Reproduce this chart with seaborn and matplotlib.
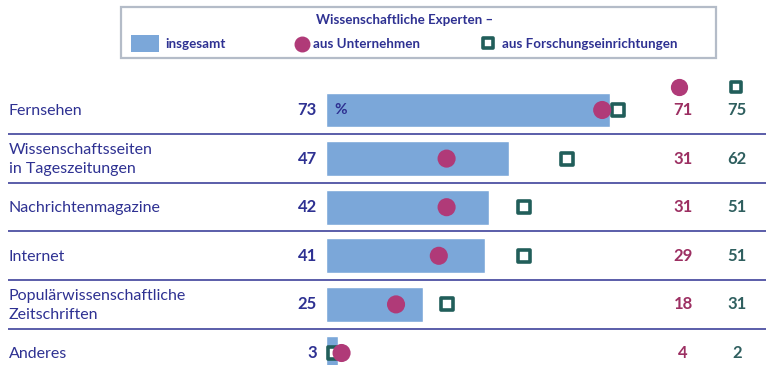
import matplotlib
matplotlib.use("Agg")
import matplotlib.pyplot as plt
from matplotlib.patches import Rectangle
import seaborn as sns
import pandas as pd

# Media sources and shares (%) by expert group
categories = ["Fernsehen", "Wissenschaftsseiten\nin Tageszeitungen", "Nachrichtenmagazine",
              "Internet", "Populärwissenschaftliche\nZeitschriften", "Anderes"]
total = [73, 47, 42, 41, 25, 3]
companies = [71, 31, 31, 29, 18, 4]
research = [75, 62, 51, 51, 31, 2]

legend_title = "Wissenschaftliche Experten –"
legend_labels = ["insgesamt", "aus Unternehmen", "aus Forschungseinrichtungen"]

BAR = "#7ba7d9"
MAGENTA = "#b03a78"
TEAL = "#215e5a"
NAVY = "#2e3192"
RED_TXT = "#9c2f62"
TEAL_TXT = "#2f5f5f"

sns.set_theme(style="white")
plt.rcParams["font.family"] = ["Lato", "DejaVu Sans"]

W, H = 766, 365
fig = plt.figure(figsize=(W / 100, H / 100), dpi=100)
ax = fig.add_axes([0, 0, 1, 1])

x0_px, px_per = 326, 3.89
row0_px, row_px = 110, 48.6

df = pd.DataFrame({"cat": categories, "total": total,
                   "companies": companies, "research": research})

sns.barplot(data=df, y="cat", x="total", color=BAR, width=0.72,
            saturation=1, ax=ax, orient="h")
sns.scatterplot(data=df, y="cat", x="research", marker="s", s=70,
                color="white", edgecolor=TEAL, linewidth=2.6, ax=ax, zorder=4)
sns.scatterplot(data=df, y="cat", x="companies", marker="o", s=170,
                color=MAGENTA, edgecolor="none", ax=ax, zorder=5)

ax.set_xlim(-x0_px / px_per, (W - x0_px) / px_per)
ax.set_ylim((H - row0_px) / row_px, -row0_px / row_px)
ax.set_axis_off()

def px(x):
    return (x - x0_px) / px_per

for i, cat in enumerate(categories):
    ax.text(px(9), i + 0.02, cat, ha="left", va="center", fontsize=11.5,
            color=NAVY, linespacing=1.45)
    ax.text(px(317), i, f"{total[i]}", ha="right", va="center",
            fontsize=12, fontweight="bold", color=NAVY)
    ax.text(px(683), i, f"{companies[i]}", ha="center", va="center",
            fontsize=12, fontweight="bold", color=RED_TXT)
    ax.text(px(737), i, f"{research[i]}", ha="center", va="center",
            fontsize=12, fontweight="bold", color=TEAL_TXT)
    if i < len(categories) - 1:
        ax.plot([px(8), px(766)], [i + 0.5, i + 0.5], color=NAVY,
                lw=1.1, solid_capstyle="butt", zorder=1)

ax.text(px(334), 0, "%", ha="left", va="center", fontsize=11,
        fontweight="bold", color=NAVY, zorder=6)

# column header symbols
hy = (87 - row0_px) / row_px
ax.scatter([px(679)], [hy], marker="o", s=130, color=MAGENTA, zorder=5)
ax.scatter([px(736)], [hy], marker="s", s=60, color="white",
           edgecolors=TEAL, linewidths=2.6, zorder=5)

# legend box in pixel coordinates
lax = fig.add_axes([0, 0, 1, 1], facecolor="none")
lax.set_xlim(0, W)
lax.set_ylim(H, 0)
lax.set_axis_off()
lax.add_patch(Rectangle((121, 7), 595, 51, fill=False, edgecolor="#b4bcc8", lw=1.6))
lax.text(405, 20, legend_title, ha="center", va="center", fontsize=9.6,
         fontweight="bold", color=NAVY)
lax.add_patch(Rectangle((131, 35), 28, 17, color=BAR, lw=0))
lax.text(165, 44, legend_labels[0], ha="left", va="center", fontsize=9.6,
         fontweight="bold", color=NAVY)
lax.scatter([302], [43.5], marker="o", s=110, color=MAGENTA)
lax.text(313, 44, legend_labels[1], ha="left", va="center", fontsize=9.6,
         fontweight="bold", color=NAVY)
lax.scatter([488], [42.5], marker="s", s=50, color="white",
            edgecolors=TEAL, linewidths=2.6)
lax.text(502, 44, legend_labels[2], ha="left", va="center", fontsize=9.6,
         fontweight="bold", color=NAVY)

fig.savefig("out.png", dpi=100)
